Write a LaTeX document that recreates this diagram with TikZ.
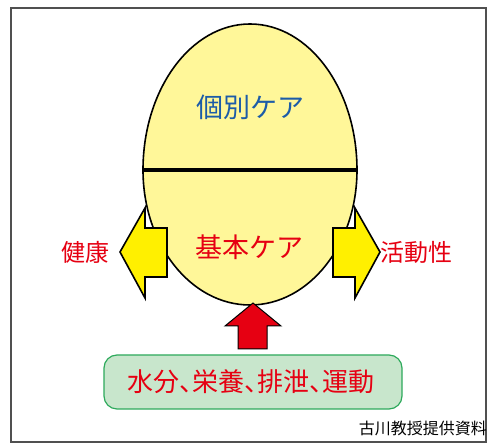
\documentclass[tikz,border=0pt]{standalone}
\usepackage{fontspec}
\setmainfont{Noto Sans CJK JP}
\newfontfamily\paltfont[RawFeature=+palt]{Noto Sans CJK JP}
\definecolor{eggfill}{RGB}{255,247,153}
\definecolor{arrowyellow}{RGB}{255,240,0}
\definecolor{jred}{RGB}{230,0,18}
\definecolor{jblue}{RGB}{28,92,168}
\definecolor{boxgreen}{RGB}{200,230,204}
\definecolor{boxborder}{RGB}{46,170,92}
\definecolor{framegray}{RGB}{80,80,80}
\tikzset{
  fatarrow/.style={draw=black, line width=1.6pt, line join=miter, fill=arrowyellow},
  redarrow/.style={draw=black, line width=1pt, fill=jred},
  redtext/.style={text=jred, font=\fontsize{24}{28}\selectfont, inner sep=0pt},
}
\begin{document}
\begin{tikzpicture}[x=1pt,y=1pt]
\useasboundingbox (0,0) rectangle (488,444);
\fill[white] (0,0) rectangle (488,444);
% frame
\draw[framegray, line width=1.3pt] (11,2) rectangle (486,436);
% egg
\draw[fill=eggfill, line width=1.6pt]
  (143,274) arc[start angle=180,end angle=0,x radius=107,y radius=146]
  arc[start angle=0,end angle=-180,x radius=107,y radius=135] -- cycle;
\coordinate (eggL) at (143,274);
\coordinate (eggR) at (357,274);
\draw[line width=3.6pt] (eggL) -- (eggR);
% side arrows
\draw[fatarrow] (120,192)--(145,236)--(145,216)--(167,216)--(167,167)--(145,167)--(145,146)--cycle;
\draw[fatarrow] (380,192)--(355,236)--(355,216)--(333,216)--(333,167)--(355,167)--(355,146)--cycle;
% up arrow
\draw[redarrow] (253,141)--(281,118)--(267,118)--(267,95)--(238,95)--(238,118)--(225,118)--cycle;
% texts
\node[text=jblue, font=\fontsize{27}{30}\selectfont, inner sep=0pt] (kobetsu) at (250,337) {個別ケア};
\node[redtext, font=\fontsize{27}{30}\selectfont] (kihon) at (249,197) {基本ケア};
\node[redtext] (kenko) at (85,192) {健康};
\node[redtext] (katsudo) at (416,192) {活動性};
\node[draw=boxborder, fill=boxgreen, line width=1.2pt, rounded corners=13pt,
      minimum width=298pt, minimum height=54pt, inner sep=0pt] (base) at (253,62) {};
\node[redtext, font=\paltfont\fontsize{26}{30}\selectfont] (basetext) at (251,62) {水分、栄養、排泄、運動};
\node[anchor=east, text=black, font=\fontsize{16}{18}\selectfont, inner sep=0pt] (credit) at (487,16) {古川教授提供資料};
\end{tikzpicture}
\end{document}
